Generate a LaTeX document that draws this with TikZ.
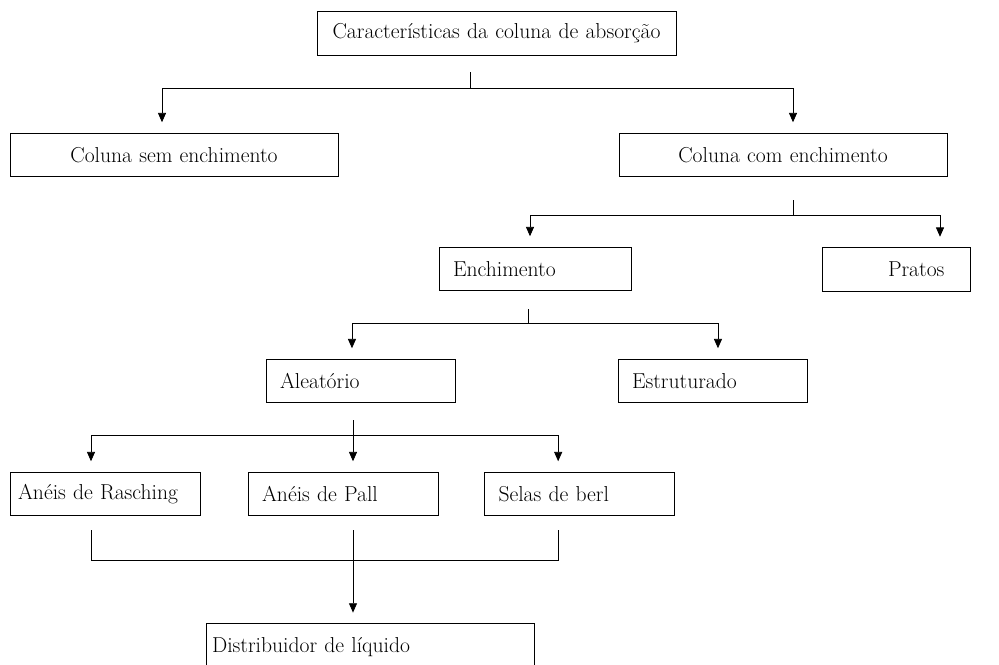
\documentclass[tikz,border=0pt]{standalone}
\usepackage{tikz}
\usetikzlibrary{arrows.meta}

\tikzset{
    caixa/.style={draw, rectangle, minimum height=32.5pt, inner xsep=10.5pt, inner ysep=0pt,
                  font=\fontsize{16.2}{18}\selectfont, text width=#1, align=left},
    caixac/.style={caixa=#1, align=center},
    seta/.style={-{Triangle[width=6pt,length=7pt]}, shorten >=8pt},
}

\begin{document}
\begin{tikzpicture}[x=0.75pt, y=-0.75pt, line width=0.6pt]
        \useasboundingbox (0,0) rectangle (999,664);

        % caixas
        \node[caixac=248.25pt, inner xsep=6pt, text width=257.25pt] (topo) at (496.5,33.5) {Características da coluna de absorção};
        \node[caixac=225pt] (sem) at (174,155) {Coluna sem enchimento};
        \node[caixac=225pt] (com) at (783,155) {Coluna com enchimento};
        \node[caixa=123pt] (ench) at (535,269) {Enchimento};
        \node[caixa=90pt] (prat) at (896,269.5) {\hspace*{39pt}Pratos};
        \node[caixa=121.5pt, inner xsep=6pt, text width=130.5pt] (rasc) at (105,494) {Anéis de Rasching};
        \node[caixa=120.75pt] (alea) at (360.5,381) {Aleatório};
        \node[caixa=120.75pt] (estr) at (712.5,381) {Estruturado};
        \node[caixa=121.5pt] (pall) at (343,494) {Anéis de Pall};
        \node[caixa=121.5pt] (sela) at (579.5,494) {Selas de berl};
        \node[caixa=225pt, minimum height=35pt, inner xsep=4.5pt, text width=237pt] (dist) at (370,647) {Distribuidor de líquido};

        % pontos das ligacoes
        \coordinate (j1a) at (470,72);
        \coordinate (j1) at (470,88);
        \coordinate (j2a) at (793,200);
        \coordinate (j2) at (793,215);
        \coordinate (j3a) at (528,309);
        \coordinate (j3) at (528,323);
        \coordinate (j4a) at (353,420);
        \coordinate (j4) at (353,435);
        \coordinate (b1) at (91,530);
        \coordinate (b2) at (353,530);
        \coordinate (b3) at (558,530);
        \coordinate (k1) at (91,560);
        \coordinate (k2) at (353,560);
        \coordinate (k3) at (558,560);

        \draw (j1a) -- (j1);
        \draw[seta] (j1) -| ([xshift=-9pt]sem.north);
        \draw[seta] (j1) -| ([xshift=7.5pt]com.north);

        \draw (j2a) -- (j2);
        \draw[seta] (j2) -| ([xshift=-3.75pt]ench.north);
        \draw[seta] (j2) -| ([xshift=33pt]prat.north);

        \draw (j3a) -- (j3);
        \draw[seta] (j3) -| ([xshift=-6.4pt]alea.north);
        \draw[seta] (j3) -| ([xshift=4.1pt]estr.north);

        \draw[seta] (j4a) -- ([xshift=7.5pt]pall.north);
        \draw[seta] (j4) -| ([xshift=-10.5pt]rasc.north);
        \draw[seta] (j4) -| ([xshift=-16pt]sela.north);

        \draw (b1) -- (k1) -- (k3) -- (b3);
        \draw (b2) -- (k2);
        \draw[seta] (k2) -- ([xshift=-12.75pt]dist.north);

    \end{tikzpicture}
\end{document}
